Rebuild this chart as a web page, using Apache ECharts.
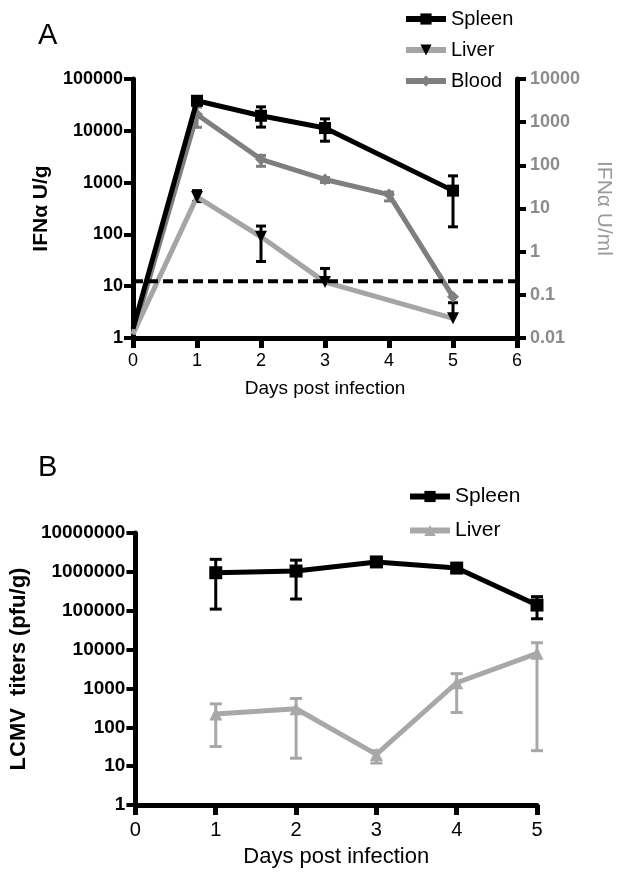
<!DOCTYPE html>
<html>
<head>
    <meta charset="utf-8">
    <title>IFNa / LCMV titers</title>
    <script src="https://cdn.jsdelivr.net/npm/echarts@6.0.0/dist/echarts.min.js"></script>
    <style type="text/css">
        *{margin: 0;padding: 0;}
        body{width: 624px;height: 883px;overflow: hidden;background: #fff;}
        #chartA{width: 624px;height: 440px;}
        #chartB{width: 624px;height: 443px;}
    </style>
</head>
<body>
<div id="chartA"></div>
<div id="chartB"></div>
<script type="text/javascript">
    // panel A: IFNa (spleen/liver in U/g on left axis, blood in U/ml on right axis)
    var daysA = [0, 1, 2, 3, 4, 5];
    var spleenA     = [1.5, 38000, 19500, 11300, null, 700];
    var spleenALow  = [null, 34000, 11800, 6300, null, 140];
    var spleenAHigh = [null, 42000, 29000, 17000, null, 1350];
    var liverA     = [1.2, 530, 90, 12, null, 2.4];
    var liverALow  = [null, 430, 30, 12, null, 2.4];
    var liverAHigh = [null, 700, 145, 22, null, 4.8];
    var bloodA     = [0.012, 1500, 138, 47, 21, 0.09];
    var bloodALow  = [null, 760, 95, 40, 15, null];
    var bloodAHigh = [null, 2240, 170, 52, 24, null];
    var limitA = 12.5;
    var ticksALeft  = [1, 10, 100, 1000, 10000, 100000];
    var ticksARight = [0.01, 0.1, 1, 10, 100, 1000, 10000];

    // panel B: LCMV titers
    var daysB = [1, 2, 3, 4, 5];
    var spleenB     = [950000, 1050000, 1800000, 1250000, 140000];
    var spleenBLow  = [110000, 200000, 1400000, 1000000, 62000];
    var spleenBHigh = [2100000, 2000000, 2200000, 1500000, 230000];
    var liverB     = [220, 300, 20, 1400, 8000];
    var liverBLow  = [32, 16, 12, 240, 25];
    var liverBHigh = [400, 550, 25, 2400, 15000];
    var ticksB = [1, 10, 100, 1000, 10000, 100000, 1000000, 10000000];

    var FONT = 'Liberation Sans';

    /*---------------------------------helpers---------------------------------*/
    function pts(days, vals) {
        var out = [];
        for (var i = 0; i < days.length; i++) {
            if (vals[i] == null) continue;
            if (days[i] === 0) {
                out.push({value: [days[i], vals[i]], symbol: 'none'});
            } else {
                out.push([days[i], vals[i]]);
            }
        }
        return out;
    }
    function errs(days, vals, lo, hi) {
        var out = [];
        for (var i = 0; i < days.length; i++) {
            if (lo[i] == null) continue;
            out.push([days[i], vals[i], lo[i], hi[i]]);
        }
        return out;
    }
    function errorBar(cap) {
        return function (params, api) {
            var x = api.value(0), mid = api.value(1), lo = api.value(2), hi = api.value(3);
            var pl = api.coord([x, lo]);
            var ph = api.coord([x, hi]);
            var style = {stroke: api.visual('color'), lineWidth: 3};
            var kids = [
                {type: 'line', shape: {x1: ph[0], y1: ph[1], x2: pl[0], y2: pl[1]}, style: style},
                {type: 'line', shape: {x1: ph[0] - cap, y1: ph[1], x2: ph[0] + cap, y2: ph[1]}, style: style}
            ];
            if (lo < mid) {
                kids.push({type: 'line', shape: {x1: pl[0] - cap, y1: pl[1], x2: pl[0] + cap, y2: pl[1]}, style: style});
            }
            return {type: 'group', children: kids};
        };
    }
    function fmt(v) {
        return String(+(+v).toPrecision(2));
    }
    function xAxisOpt(max, labelSize, nameSize, margin) {
        return {
            type: 'value', min: 0, max: max, interval: 1,
            axisLine: {onZero: false, lineStyle: {color: '#000', width: 5}},
            axisTick: {show: true, length: 10, lineStyle: {color: '#000', width: 5}},
            axisLabel: {fontSize: labelSize, color: '#000', margin: margin, fontFamily: FONT},
            splitLine: {show: false},
            name: 'Days post infection', nameLocation: 'middle', nameGap: 41,
            nameTextStyle: {fontSize: nameSize, color: '#000', fontFamily: FONT}
        };
    }
    function logAxisOpt(ticks, pos, color, labelSize) {
        return {
            type: 'log', logBase: 10, position: pos,
            min: ticks[0], max: ticks[ticks.length - 1],
            axisLine: {show: true, onZero: false, lineStyle: {color: '#000', width: 5}},
            axisTick: {show: true, length: 9, lineStyle: {color: '#000', width: 4}},
            axisLabel: {fontSize: labelSize, fontWeight: 'bold', color: color, margin: 10,
                fontFamily: FONT, formatter: fmt},
            splitLine: {show: false},
            minorTick: {show: false}
        };
    }

    /*---------------------------------panel A---------------------------------*/
    var chartA = echarts.init(document.getElementById('chartA'));
    var yLeftA = logAxisOpt(ticksALeft, 'left', '#000', 18);
    yLeftA.name = 'IFNα U/g';
    yLeftA.nameLocation = 'middle';
    yLeftA.nameGap = 67;
    yLeftA.nameTextStyle = {fontSize: 21, fontWeight: 'bold', color: '#000', fontFamily: FONT};
    var yRightA = logAxisOpt(ticksARight, 'right', '#8c8c8c', 18);
    yRightA.axisLabel.margin = 13;
    yRightA.name = 'IFNα U/ml';
    yRightA.nameLocation = 'middle';
    yRightA.nameRotate = -90;
    yRightA.nameGap = 76;
    yRightA.nameTextStyle = {fontSize: 21, color: '#999', fontFamily: FONT};

    var optionA = {
        animation: false,
        textStyle: {fontFamily: FONT},
        title: {text: 'A', left: 38, top: 21, padding: 0,
            textStyle: {fontSize: 29, fontWeight: 'normal', color: '#000', fontFamily: FONT}},
        legend: {
            orient: 'vertical', left: 403, top: 9, padding: 0,
            itemWidth: 40, itemHeight: 14, itemGap: 11, selectedMode: false,
            lineStyle: {width: 6},
            textStyle: {fontSize: 20, color: '#000', fontFamily: FONT},
            data: ['Spleen', 'Liver', 'Blood']
        },
        grid: {left: 133, right: 107, top: 79, height: 259},
        xAxis: xAxisOpt(6, 18, 19, 14),
        yAxis: [yLeftA, yRightA],
        series: [
            {
                name: 'limit', type: 'line', silent: true, symbol: 'none', z: 4,
                lineStyle: {color: '#000', width: 4, type: [10, 5]},
                data: [[0, limitA], [6, limitA]]
            },
            {
                name: 'Spleen err', type: 'custom', yAxisIndex: 0, z: 1,
                itemStyle: {color: '#000'},
                renderItem: errorBar(5),
                data: errs(daysA, spleenA, spleenALow, spleenAHigh)
            },
            {
                name: 'Liver err', type: 'custom', yAxisIndex: 0, z: 1,
                itemStyle: {color: '#000'},
                renderItem: errorBar(5),
                data: errs(daysA, liverA, liverALow, liverAHigh)
            },
            {
                name: 'Blood err', type: 'custom', yAxisIndex: 1, z: 1,
                itemStyle: {color: '#7f7f7f'},
                renderItem: errorBar(5),
                data: errs(daysA, bloodA, bloodALow, bloodAHigh)
            },
            {
                name: 'Blood', type: 'line', yAxisIndex: 1, z: 2,
                symbol: 'diamond', symbolSize: 12,
                lineStyle: {color: '#7f7f7f', width: 5},
                itemStyle: {color: '#7f7f7f'},
                data: pts(daysA, bloodA)
            },
            {
                name: 'Liver', type: 'line', yAxisIndex: 0, z: 3,
                symbol: 'triangle', symbolRotate: 180, symbolSize: 12,
                lineStyle: {color: '#a5a5a5', width: 5},
                itemStyle: {color: '#000'},
                data: pts(daysA, liverA)
            },
            {
                name: 'Spleen', type: 'line', yAxisIndex: 0, z: 3,
                symbol: 'rect', symbolSize: 12,
                lineStyle: {color: '#000', width: 5},
                itemStyle: {color: '#000'},
                data: pts(daysA, spleenA)
            }
        ]
    };
    chartA.setOption(optionA);

    /*---------------------------------panel B---------------------------------*/
    var chartB = echarts.init(document.getElementById('chartB'));
    var yB = logAxisOpt(ticksB, 'left', '#000', 19);
    yB.name = 'LCMV  titers (pfu/g)';
    yB.nameLocation = 'middle';
    yB.nameGap = 102;
    yB.nameTextStyle = {fontSize: 22, fontWeight: 'bold', color: '#000', fontFamily: FONT};

    var optionB = {
        animation: false,
        textStyle: {fontFamily: FONT},
        title: {text: 'B', left: 38, top: 13, padding: 0,
            textStyle: {fontSize: 29, fontWeight: 'normal', color: '#000', fontFamily: FONT}},
        legend: {
            orient: 'vertical', left: 407, top: 46, padding: 0,
            itemWidth: 40, itemHeight: 14, itemGap: 13, selectedMode: false,
            lineStyle: {width: 6},
            textStyle: {fontSize: 21, color: '#000', fontFamily: FONT},
            data: ['Spleen', 'Liver']
        },
        grid: {left: 135, right: 87, top: 93, height: 272},
        xAxis: xAxisOpt(5, 20, 22, 15),
        yAxis: yB,
        series: [
            {
                name: 'Spleen err', type: 'custom', z: 1,
                itemStyle: {color: '#000'},
                renderItem: errorBar(6),
                data: errs(daysB, spleenB, spleenBLow, spleenBHigh)
            },
            {
                name: 'Liver err', type: 'custom', z: 1,
                itemStyle: {color: '#a8a8a8'},
                renderItem: errorBar(6),
                data: errs(daysB, liverB, liverBLow, liverBHigh)
            },
            {
                name: 'Spleen', type: 'line', z: 3,
                symbol: 'rect', symbolSize: 13,
                lineStyle: {color: '#000', width: 5},
                itemStyle: {color: '#000'},
                data: pts(daysB, spleenB)
            },
            {
                name: 'Liver', type: 'line', z: 3,
                symbol: 'triangle', symbolSize: 13,
                lineStyle: {color: '#a8a8a8', width: 5},
                itemStyle: {color: '#a8a8a8'},
                data: pts(daysB, liverB)
            }
        ]
    };
    chartB.setOption(optionB);
</script>
</body>
</html>
